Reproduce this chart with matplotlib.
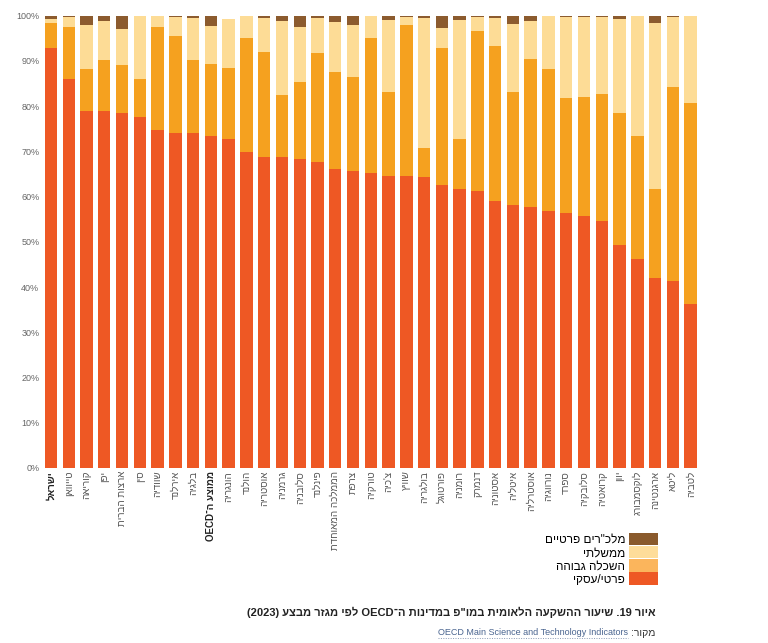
import re
import matplotlib
matplotlib.use('Agg')
import matplotlib.pyplot as plt
from matplotlib.patches import Patch
from matplotlib.lines import Line2D

plt.rcParams['font.family'] = ['Liberation Sans', 'DejaVu Sans']

countries = ['ישראל', 'טייוואן', 'קוריאה', 'יפן', 'ארצות הברית', 'סין', 'שוודיה', 'אירלנד', 'בלגיה',
             'ממוצע ה־OECD', 'הונגריה', 'הולנד', 'אוסטריה', 'גרמניה', 'סלובניה', 'פינלנד',
             'הממלכה המאוחדת', 'צרפת', 'טורקיה', "צ'כיה", 'שוויץ', 'בולגריה', 'פורטוגל', 'רומניה',
             'דנמרק', 'אסטוניה', 'איטליה', 'אוסטרליה', 'נורווגיה', 'ספרד', 'סלובקיה', 'קרואטיה',
             'יוון', 'לוקסמבורג', 'ארגנטינה', 'ליטא', 'לטביה']
business = [92.9, 86.0, 79.0, 79.0, 78.4, 77.7, 74.7, 74.1, 74.0, 73.5, 72.7, 69.9, 68.7, 68.7,
            68.3, 67.6, 66.1, 65.7, 65.2, 64.6, 64.5, 64.3, 62.6, 61.7, 61.2, 59.0, 58.1, 57.7,
            56.8, 56.3, 55.8, 54.5, 49.2, 46.2, 42.0, 41.3, 36.3]
higher_ed = [5.5, 11.4, 9.2, 11.1, 10.7, 8.3, 22.8, 21.4, 16.1, 15.8, 15.7, 25.1, 23.2, 13.8,
             17.0, 24.1, 21.5, 20.7, 29.8, 18.6, 33.5, 6.4, 30.3, 11.0, 35.4, 34.3, 25.1, 32.7,
             31.4, 25.6, 26.3, 28.2, 29.3, 27.3, 19.7, 43.0, 44.4]
government = [0.8, 2.3, 9.7, 8.7, 7.9, 14.0, 2.4, 4.2, 9.4, 8.5, 10.9, 5.0, 7.5, 16.4,
              12.2, 7.7, 10.9, 11.6, 5.0, 15.9, 1.8, 28.7, 4.3, 26.4, 3.0, 6.1, 14.9, 8.5,
              11.9, 17.7, 17.6, 16.9, 20.8, 26.5, 36.6, 15.3, 19.4]
nonprofit = [0.7, 0.2, 2.1, 1.2, 3.0, 0.0, 0.1, 0.2, 0.6, 2.2, 0.0, 0.0, 0.6, 1.2,
             2.6, 0.6, 1.5, 2.1, 0.0, 0.9, 0.2, 0.6, 2.8, 1.0, 0.4, 0.6, 1.9, 1.1,
             0.0, 0.4, 0.4, 0.4, 0.7, 0.0, 1.7, 0.4, 0.0]

series_names = ['פרטי/עסקי', 'השכלה גבוהה', 'ממשלתי', 'מלכ"רים פרטיים']
colors = ['#ee5824', '#f5a11f', '#fddc96', '#8c5b2e']
legend_colors = ['#ee5824', '#fbb55c', '#fedd9a', '#8a5a2c']

title = 'איור 19. שיעור ההשקעה הלאומית במו"פ במדינות ה־OECD לפי מגזר מבצע (2023)'
source_label = 'מקור:'
source_link = 'OECD Main Science and Technology Indicators'


def heb(s):
    # matplotlib has no bidi, so put hebrew in visual order by hand (latin runs stay as they are)
    parts = re.findall(r'[A-Za-z0-9](?:[A-Za-z0-9 ]*[A-Za-z0-9])?|[^A-Za-z0-9]+', s)
    out = []
    for p in reversed(parts):
        if re.match(r'[A-Za-z0-9]', p):
            out.append(p)
        else:
            out.append(p[::-1].translate(str.maketrans('()', ')(')))
    return ''.join(out)


fig = plt.figure(figsize=(7.68, 6.43), dpi=100)
ax = fig.add_axes([0.0548, 0.2722, 0.856, 0.7034])

x = range(len(countries))
bottom = [0.0] * len(countries)
for vals, col in zip([business, higher_ed, government, nonprofit], colors):
    ax.bar(x, vals, width=0.7, bottom=bottom, color=col, linewidth=0)
    bottom = [b + v for b, v in zip(bottom, vals)]

ax.set_xlim(-0.5, len(countries) - 0.5)
ax.set_ylim(0, 100)
ax.set_yticks(range(0, 101, 10))
ax.set_yticklabels([f'{v}%' for v in range(0, 101, 10)], fontsize=6.5, color='#666666')
ax.set_xticks(list(x))
ax.set_xticklabels([heb(c) for c in countries], rotation=90, fontsize=7, color='#555555',
                   ha='center', va='top')
for i, lab in enumerate(ax.get_xticklabels()):
    if i in (0, 9):
        lab.set_fontweight('bold')
        lab.set_color('#222222')
ax.tick_params(length=0, pad=2)
for s in ax.spines.values():
    s.set_visible(False)

handles = [Patch(facecolor=c, linewidth=0) for c in legend_colors][::-1]
fig.legend(handles, [heb(n) for n in series_names][::-1], loc='upper right',
           bbox_to_anchor=(0.857, 0.1715), frameon=False, markerfirst=False,
           fontsize=8.5, handlelength=2.5, handleheight=1.25, labelspacing=0,
           handletextpad=0.3, borderpad=0, borderaxespad=0)

fig.text(0.854, 0.047, heb(title), ha='right', va='center', fontsize=8, fontweight='bold',
         color='#222222')
fig.text(0.854, 0.016, heb(source_label), ha='right', va='center', fontsize=7.5, color='#333333')
link = fig.text(0.818, 0.016, source_link, ha='right', va='center', fontsize=6.5, color='#4a6590')

# dotted underline under the source link
fig.canvas.draw()
bb = link.get_window_extent().transformed(fig.transFigure.inverted())
fig.add_artist(Line2D([bb.x0, bb.x1], [bb.y0 - 0.002, bb.y0 - 0.002], transform=fig.transFigure,
                      color='#8a9ab5', linewidth=0.7, linestyle=(0, (1, 1.5))))

fig.savefig('out.png', dpi=100)
